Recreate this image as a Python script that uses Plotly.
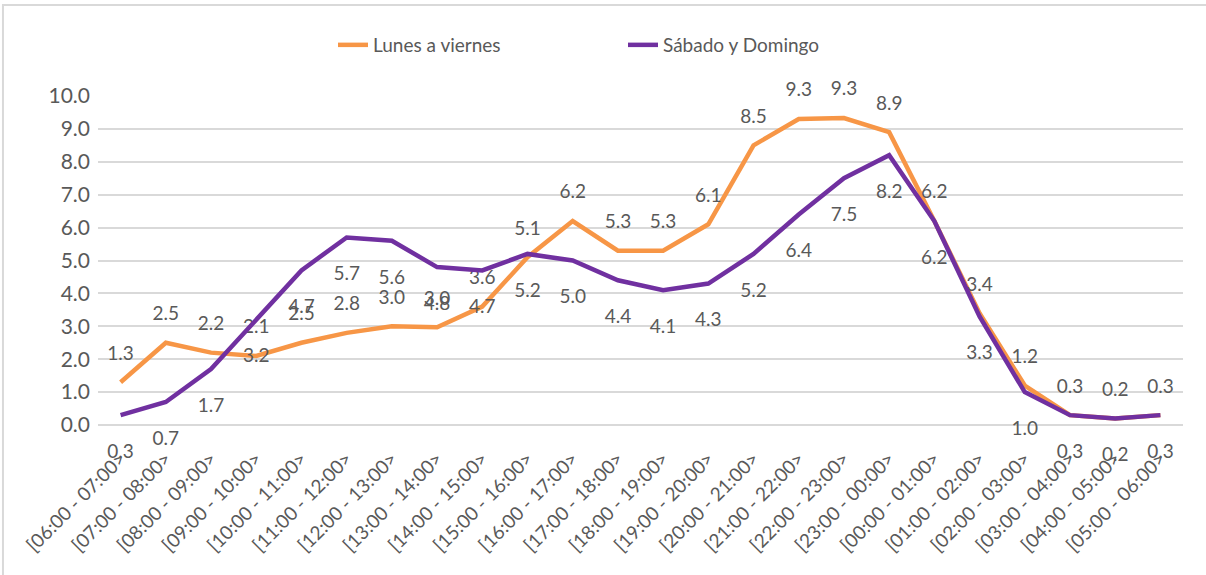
import plotly.graph_objects as go

categories = ["[06:00 - 07:00>", "[07:00 - 08:00>", "[08:00 - 09:00>", "[09:00 - 10:00>",
              "[10:00 - 11:00>", "[11:00 - 12:00>", "[12:00 - 13:00>", "[13:00 - 14:00>",
              "[14:00 - 15:00>", "[15:00 - 16:00>", "[16:00 - 17:00>", "[17:00 - 18:00>",
              "[18:00 - 19:00>", "[19:00 - 20:00>", "[20:00 - 21:00>", "[21:00 - 22:00>",
              "[22:00 - 23:00>", "[23:00 - 00:00>", "[00:00 - 01:00>", "[01:00 - 02:00>",
              "[02:00 - 03:00>", "[03:00 - 04:00>", "[04:00 - 05:00>", "[05:00 - 06:00>"]
lunes_viernes = [1.3, 2.5, 2.2, 2.1, 2.5, 2.8, 3.0, 2.97, 3.6, 5.1, 6.2, 5.3,
                 5.3, 6.1, 8.5, 9.3, 9.33, 8.9, 6.2, 3.4, 1.2, 0.3, 0.2, 0.3]
sabado_domingo = [0.3, 0.7, 1.7, 3.2, 4.7, 5.7, 5.6, 4.8, 4.7, 5.2, 5.0, 4.4,
                  4.1, 4.3, 5.2, 6.4, 7.5, 8.2, 6.2, 3.3, 1.0, 0.3, 0.2, 0.3]
y_ticks = [0, 1, 2, 3, 4, 5, 6, 7, 8, 9, 10]

FONT = "Lato, 'Open Sans', sans-serif"
GRAY = "#595959"

fig = go.Figure()
fig.add_trace(go.Scatter(
    x=categories, y=lunes_viernes, name="Lunes a viernes", mode="lines+markers+text",
    line=dict(color="#F79646", width=4.5),
    marker=dict(size=27, color="rgba(0,0,0,0)"),
    texttemplate="%{y:.1f}", textposition="top center",
    textfont=dict(family=FONT, size=19, color=GRAY), cliponaxis=False))
fig.add_trace(go.Scatter(
    x=categories, y=sabado_domingo, name="Sábado y Domingo", mode="lines+markers+text",
    line=dict(color="#7030A0", width=4.5),
    marker=dict(size=44, color="rgba(0,0,0,0)"),
    texttemplate="%{y:.1f}", textposition="bottom center",
    textfont=dict(family=FONT, size=19, color=GRAY), cliponaxis=False))

fig.update_layout(
    width=1206, height=575,
    margin=dict(l=98, r=23, t=96, b=150, autoexpand=False),
    paper_bgcolor="white", plot_bgcolor="white",
    font=dict(family=FONT, color=GRAY, size=17),
    legend=dict(orientation="h", xref="container", yref="container",
                x=333 / 1206, xanchor="left", y=1 - 45 / 575, yanchor="middle",
                font=dict(size=19, color=GRAY), entrywidth=245, entrywidthmode="pixels",
                traceorder="normal"),
    showlegend=True,
)
fig.update_xaxes(type="category", range=[-0.5, 23.5], tickangle=-45,
                 showgrid=False, showline=False, ticks="", automargin=False,
                 ticklabelstandoff=18,
                 tickfont=dict(size=19, color=GRAY))
fig.update_yaxes(range=[0, 10], tickvals=y_ticks, tickformat=".1f", automargin=False,
                 showgrid=True, gridcolor="#D9D9D9", gridwidth=1.5,
                 zeroline=True, zerolinecolor="#D9D9D9", zerolinewidth=1.5,
                 ticks="", ticklabelstandoff=7,
                 tickfont=dict(size=21, color=GRAY))
fig.add_shape(type="rect", xref="paper", yref="paper",
              x0=-0.0876, x1=1.03, y0=-0.5, y1=1.2766,
              line=dict(color="#D9D9D9", width=2), layer="below")

fig.write_html("out.html", config={"displayModeBar": False},
               post_script="document.body.style.margin='0';")
